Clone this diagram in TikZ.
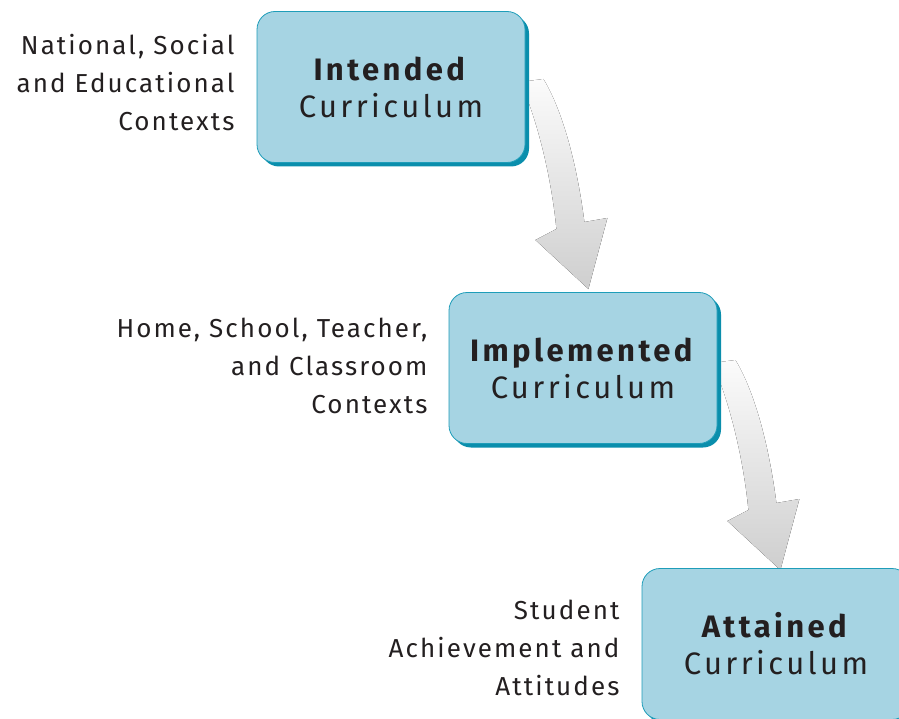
\documentclass[tikz,border=0pt]{standalone}
\usepackage{fontspec}
\setmainfont{Fira Sans}
\usetikzlibrary{shadows,backgrounds}
\definecolor{boxfill}{HTML}{A6D4E3}
\definecolor{boxline}{HTML}{1E9DB9}
\definecolor{boxshade}{HTML}{0A8EAC}
\definecolor{ink}{HTML}{231F20}
\begin{document}
\begin{tikzpicture}[x=1pt, y=-1pt,
  curbox/.style={rounded corners=18pt, draw=boxline, line width=0.8pt, fill=boxfill,
    minimum width=268pt, minimum height=151pt, align=center, text=ink,
    font=\fontsize{31}{37}\selectfont\addfontfeatures{LetterSpace=11},
    drop shadow={shadow xshift=4pt, shadow yshift=-4pt, fill=boxshade, opacity=1}},
  ctx/.style={anchor=east, align=right, text=ink,
    font=\fontsize{26}{38}\selectfont\addfontfeatures{LetterSpace=8}},
  bigarrow/.style={top color=gray!3, bottom color=gray!38}]
\useasboundingbox (0,0) rectangle (899,719);

% boxes
\node[curbox] (intended) at (391,87) {\textbf{Intended}\\Curriculum};
\node[curbox] (implemented) at (583,368) {\textbf{Implemented}\\Curriculum};
\node[curbox] (attained) at (776,644) {\textbf{Attained}\\Curriculum};

% arrows behind the boxes
\begin{pgfonlayer}{background}
\foreach \from in {intended,implemented} {
  \begin{scope}[shift={(\from.east)}]
    \fill[bigarrow] (-5,-5) .. controls (15,40) and (27,100) .. (31,142)
      -- (10,153) -- (63,202) -- (82,131) -- (59,135)
      .. controls (52,80) and (38,25) .. (18,-8) -- cycle;
  \end{scope}
}
\end{pgfonlayer}

% contexts
\node[ctx] (ctxnat) at (238,83) {National, Social\\and Educational\\Contexts};
\node[ctx] (ctxhome) at (431,366) {Home, School, Teacher,\\and Classroom\\Contexts};
\node[ctx] (ctxstud) at (623,648) {Student\\Achievement and\\Attitudes};
\end{tikzpicture}
\end{document}
